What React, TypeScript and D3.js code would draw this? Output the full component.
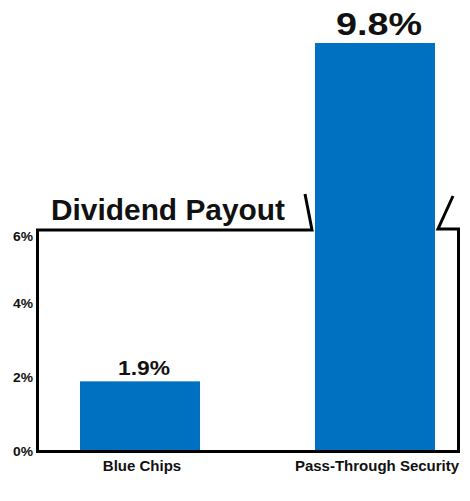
import React from "react";
import * as d3 from "d3";

const categories = ["Blue Chips", "Pass-Through Security"];
const values = [1.9, 9.8];
const valueLabels = ["1.9%", "9.8%"];
const yTicks = [0, 2, 4, 6];
const title = "Dividend Payout";

const W = 470;
const H = 501;
const BLUE = "#0070C0";
const FONT = "'Liberation Sans', Arial, Helvetica, sans-serif";

export default function App() {
  const frameLeft = 37.5;
  const frameRight = 458.5;
  const y = d3.scaleLinear().domain([0, 6]).range([451.5, 230]);
  const yBreak = d3.scaleLinear().domain([6, 9.8]).range([230, 43]);
  const x = d3
    .scaleBand<string>()
    .domain(categories)
    .range([80, 435])
    .paddingInner(0.4894)
    .paddingOuter(0);
  const bw = x.bandwidth();
  const top = (v: number) => (v <= 6 ? y(v) : yBreak(v));
  const y6 = y(6);
  const y0 = y(0);

  const bi = values.findIndex((v) => v > 6);
  const bx = bi >= 0 ? (x(categories[bi]) as number) : 0;

  const framePath =
    bi >= 0
      ? `M${frameLeft},${y6} L${frameLeft},${y0} L${frameRight},${y0} L${frameRight},${y6 - 1} L${bx + bw + 3},${y6 - 1} L${bx + bw + 18},${y6 - 34}`
      : "";
  const leftBreak =
    bi >= 0
      ? `M${frameLeft - 1.5},${y6} L${bx - 3},${y6} L${bx - 10},${y6 - 36}`
      : "";

  return (
    <svg width={W} height={H} style={{ display: "block", position: "absolute", left: 0, top: 0 }}>
      <rect x={0} y={0} width={W} height={H} fill="#fff" />
      {categories.map((c, i) => (
        <rect
          key={c}
          x={x(c)}
          y={top(values[i])}
          width={bw}
          height={y0 - top(values[i])}
          fill={BLUE}
        />
      ))}
      <path d={framePath} fill="none" stroke="#000" strokeWidth={3} strokeLinejoin="miter" />
      <path d={leftBreak} fill="none" stroke="#000" strokeWidth={3} strokeLinejoin="miter" />
      {yTicks.map((t) => (
        <text
          key={t}
          x={33}
          y={y(t) + (t === 6 ? 10.5 : 4.5)}
          textAnchor="end"
          fontFamily={FONT}
          fontWeight="bold"
          fontSize={13.5}
          textLength={20}
          lengthAdjust="spacingAndGlyphs"
          fill="#111"
        >
          {t}%
        </text>
      ))}
      {categories.map((c) => (
        <text
          key={c}
          x={(x(c) as number) + bw / 2 + 2}
          y={470.5}
          textAnchor="middle"
          fontFamily={FONT}
          fontWeight="bold"
          fontSize={15}
          fill="#111"
        >
          {c}
        </text>
      ))}
      {categories.map((c, i) => (
        <text
          key={c + "v"}
          x={(x(c) as number) + bw / 2 + 4}
          y={top(values[i]) - (values[i] > 6 ? 8 : 6)}
          textAnchor="middle"
          fontFamily={FONT}
          fontWeight="bold"
          fontSize={values[i] > 6 ? 31 : 21}
          textLength={values[i] > 6 ? 86 : 52}
          lengthAdjust="spacingAndGlyphs"
          fill="#111"
        >
          {valueLabels[i]}
        </text>
      ))}
      <text
        x={51}
        y={219.5}
        fontFamily={FONT}
        fontWeight="bold"
        fontSize={30}
        textLength={234}
        lengthAdjust="spacingAndGlyphs"
        fill="#111"
      >
        {title}
      </text>
    </svg>
  );
}
